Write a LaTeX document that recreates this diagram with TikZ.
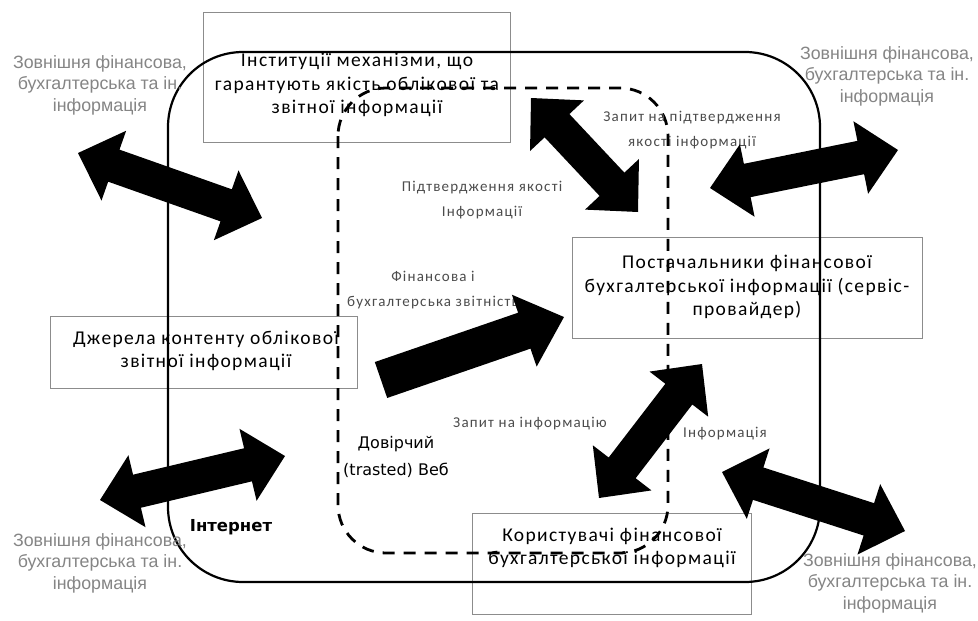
\documentclass[tikz,border=0pt]{standalone}
\usepackage{fontspec}
\setmainfont{Carlito}
\newfontfamily\greyfont{Liberation Sans}
\newfontfamily\vfont{DejaVu Sans}
\usetikzlibrary{calc}
\definecolor{greytxt}{HTML}{858585}
\definecolor{boxline}{HTML}{8C8C8C}
% double block arrow: #1 tip A, #2 tip B, #3 head length, #4 shaft half width, #5 head half width
\newcommand{\dblarr}[5]{%
  \coordinate (da1) at ($(#1)!#3!(#2)$);
  \coordinate (da2) at ($(#2)!#3!(#1)$);
  \fill[black] (#1) -- ($(da1)!#5!90:(#2)$) -- ($(da1)!#4!90:(#2)$)
    -- ($(da2)!#4!-90:(#1)$) -- ($(da2)!#5!-90:(#1)$) -- (#2)
    -- ($(da2)!#5!90:(#1)$) -- ($(da2)!#4!90:(#1)$)
    -- ($(da1)!#4!-90:(#2)$) -- ($(da1)!#5!-90:(#2)$) -- cycle;}
% single block arrow: #1 tail centre, #2 tip
\newcommand{\sglarr}[5]{%
  \coordinate (sa2) at ($(#2)!#3!(#1)$);
  \fill[black] ($(#1)!#4!90:(#2)$) -- ($(sa2)!#4!-90:(#1)$) -- ($(sa2)!#5!-90:(#1)$) -- (#2)
    -- ($(sa2)!#5!90:(#1)$) -- ($(sa2)!#4!90:(#1)$) -- ($(#1)!#4!-90:(#2)$) -- cycle;}
\begin{document}
\begin{tikzpicture}[x=1pt,y=-1pt,
  box/.style={draw=boxline, line width=0.8pt, rectangle, inner sep=0pt},
  boxtxt/.style={font=\fontsize{19.5}{23.5}\selectfont\addfontfeature{LetterSpace=7}, align=center, text=black, inner sep=0pt},
  greylbl/.style={font=\greyfont\fontsize{17.8}{21.5}\selectfont, align=center, text=greytxt, inner sep=0pt},
  smalllbl/.style={font=\fontsize{15}{24.5}\selectfont\addfontfeature{LetterSpace=8}, align=center, text=black!70, inner sep=0pt},
  zonelbl/.style={font=\vfont\fontsize{16}{27}\selectfont, align=center, text=black, inner sep=0pt},
  mainline/.style={draw=black, line width=2.2pt},
  trustline/.style={draw=black, line width=2.8pt, dash pattern=on 12pt off 9pt}]
\useasboundingbox (0,0) rectangle (978,621);
\fill[white] (0,0) rectangle (978,621);

% boxes
\node[box, minimum width=307, minimum height=130] (inst) at (356.5,77) {};
\node[box, minimum width=350, minimum height=101] (prov) at (747,287.5) {};
\node[box, minimum width=307, minimum height=72] (src) at (203.5,352) {};
\node[box, minimum width=279, minimum height=101] (usr) at (611.5,563.5) {};

\node[boxtxt] (instT) at (357,85) {Інституції механізми, що\\гарантують якість облікової та\\звітної інформації};
\node[boxtxt] (provT) at (747,287) {Постачальники фінансової\\бухгалтерської інформації (сервіс-\\провайдер)};
\node[boxtxt] (srcT) at (206,351) {Джерела контенту облікової\\звітної інформації};
\node[boxtxt] (usrT) at (612,548) {Користувачі фінансової\\бухгалтерської інформації};

% regions
\draw[mainline, rounded corners=75pt] (168,52) rectangle (820,582);
\draw[trustline, rounded corners=48pt] (338,88) rectangle (668,553);

% labels
\node[greylbl] (tl) at (100,85) {Зовнішня фінансова,\\бухгалтерська та ін.\\інформація};
\node[greylbl] (tr) at (887,76) {Зовнішня фінансова,\\бухгалтерська та ін.\\інформація};
\node[greylbl] (bl) at (100,563) {Зовнішня фінансова,\\бухгалтерська та ін.\\інформація};
\node[greylbl] (br) at (890,583) {Зовнішня фінансова,\\бухгалтерська та ін.\\інформація};

\node[smalllbl] (conf) at (482,200) {Підтвердження якості\\Інформації};
\node[smalllbl] (fin) at (433,290) {Фінансова і\\бухгалтерська звітність};
\node[smalllbl] (req) at (692,130) {Запит на підтвердження\\якості інформації};
\node[smalllbl] (reqi) at (530,424) {Запит на інформацію};
\node[smalllbl] (info) at (725,434) {Інформація};

\node[zonelbl] (trust) at (396,457) {Довірчий\\(trasted) Веб};
\node[zonelbl, font=\vfont\bfseries\fontsize{16.5}{18}\selectfont] (inet) at (231,527) {Інтернет};

% block arrows
\coordinate (a1a) at (78,153);  \coordinate (a1b) at (262,218);
\coordinate (a2a) at (100,500); \coordinate (a2b) at (285,456);
\coordinate (a3a) at (531,98);  \coordinate (a3b) at (638,212);
\coordinate (a4a) at (710,188); \coordinate (a4b) at (898,150);
\coordinate (a5a) at (702,364); \coordinate (a5b) at (599,498);
\coordinate (a6a) at (722,472); \coordinate (a6b) at (905,531);
\coordinate (a7a) at (381,380); \coordinate (a7b) at (564,317);

\dblarr{a1a}{a1b}{38pt}{17pt}{37pt}
\dblarr{a2a}{a2b}{38pt}{17pt}{37pt}
\dblarr{a3a}{a3b}{38pt}{17pt}{37pt}
\dblarr{a4a}{a4b}{38pt}{17pt}{37pt}
\dblarr{a5a}{a5b}{38pt}{17pt}{37pt}
\dblarr{a6a}{a6b}{38pt}{17pt}{37pt}
\sglarr{a7a}{a7b}{42pt}{19pt}{38pt}
\end{tikzpicture}
\end{document}
